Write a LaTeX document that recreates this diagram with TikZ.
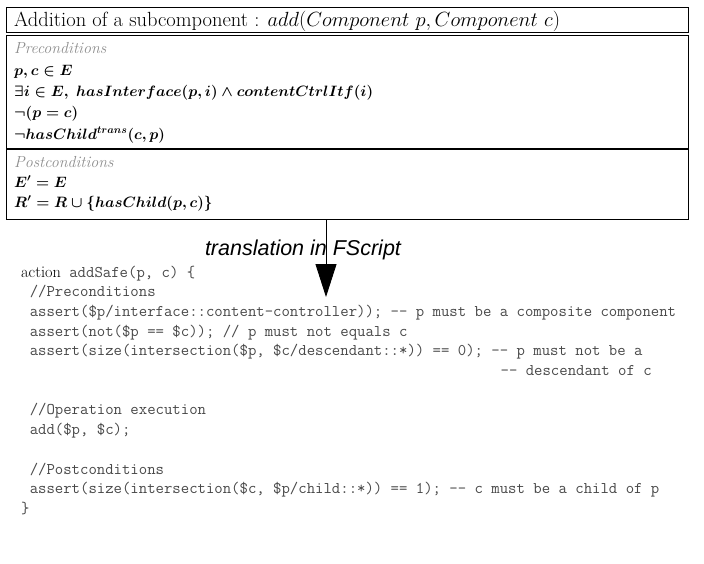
\RequirePackage{fix-cm}
\documentclass[tikz,border=0pt]{standalone}
\usepackage{fontspec}
\newfontfamily\arialf{Liberation Sans}
\usetikzlibrary{arrows.meta}
\definecolor{codegray}{HTML}{484848}
\definecolor{labgray}{HTML}{8E8E8E}
\begin{document}
\begin{tikzpicture}[x=1pt,y=-1pt,
  boxframe/.style={draw=black, line width=1.1pt, inner sep=0pt, anchor=north west},
  mathline/.style={anchor=base west, inner sep=0pt, font=\fontsize{15}{19}\selectfont\boldmath},
  headline/.style={anchor=base west, inner sep=0pt, text=labgray, font=\fontsize{16}{19}\selectfont\itshape\addfontfeature{LetterSpace=25}},
  codeline/.style={anchor=base west, inner sep=0pt, text=codegray, font=\ttfamily\fontsize{16.3}{20}\selectfont},
  arrowline/.style={draw=black, line width=0.9pt, -{Triangle[length=33pt,width=21pt]}}
]
\useasboundingbox (0,0) rectangle (704,563);
\fill[white] (0,0) rectangle (704,563);

% title box
\node[boxframe, minimum width=682pt, minimum height=25pt] (titlebox) at (6,7) {};
\node[anchor=base west, inner sep=0pt, font=\fontsize{20.5}{23}\selectfont] (title) at (14,26)
  {{\addfontfeature{LetterSpace=5}Addition of a subcomponent :} $add(Component\ p, Component\ c)$};

% main box
\node[boxframe, minimum width=682pt, minimum height=184pt] (mainbox) at (6,35) {};
\coordinate (sepl) at (6,149);
\coordinate (sepr) at (688,149);
\draw[line width=1.1pt] (sepl) -- (sepr);

\node[headline] (pre) at (14,53) {Preconditions};
\node[mathline] (m1) at (14,75) {$p,c \in E$};
\node[mathline] (m2) at (14,96) {$\exists i \in E,\ hasInterface(p,i) \wedge contentCtrlItf(i)$};
\node[mathline] (m3) at (14,117) {$\neg(p = c)$};
\node[mathline] (m4) at (14,139) {$\neg hasChild^{trans}(c,p)$};
\node[headline] (post) at (14,167) {Postconditions};
\node[mathline] (m5) at (14,187) {$E' = E$};
\node[mathline] (m6) at (14,207) {$R' = R \cup \{hasChild(p,c)\}$};

% translation arrow
\coordinate (arrtop) at (326,219);
\coordinate (arrtip) at (326,297);
\draw[arrowline] (arrtop) -- (arrtip);
\node[anchor=base, inner sep=0pt, font=\arialf\itshape\fontsize{21.5}{25}\selectfont] (lab) at (303,255) {translation in FScript};

% code
\node[codeline] (c0) at (21,277) {{\rmfamily\color{black}action} addSafe(p, c) \{};
\node[codeline] (c1) at (29.56,296.7) {//Preconditions};
\node[codeline] (c2) at (29.56,316.4) {assert(\$p/interface::content-controller)); -{}- p must be a composite component};
\node[codeline] (c3) at (29.56,336.1) {assert(not(\$p == \$c)); // p must not equals c};
\node[codeline] (c4) at (29.56,355.8) {assert(size(intersection(\$p, \$c/descendant::*)) == 0); -{}- p must not be a};
\node[codeline] (c5) at (500.4,375.5) {-{}- descendant of c};
\node[codeline] (c7) at (29.56,414.9) {//Operation execution};
\node[codeline] (c8) at (29.56,434.6) {add(\$p, \$c);};
\node[codeline] (c10) at (29.56,474) {//Postconditions};
\node[codeline] (c11) at (29.56,493.7) {assert(size(intersection(\$c, \$p/child::*)) == 1); -{}- c must be a child of p};
\node[codeline] (c12) at (21,513.4) {\}};
\end{tikzpicture}
\end{document}
